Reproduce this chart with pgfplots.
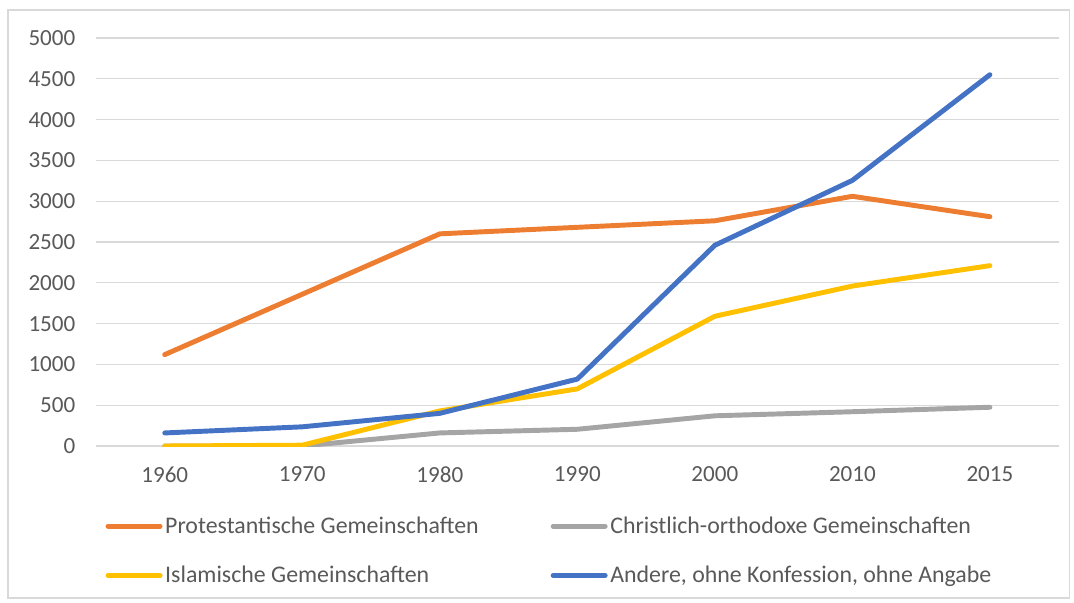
\documentclass[border=0pt]{standalone}
\usepackage{pgfplots}
\pgfplotsset{compat=1.18}
\usepackage{fontspec}
\setmainfont{Carlito}
\definecolor{cOrange}{HTML}{ED7D31}
\definecolor{cGrey}{HTML}{A5A5A5}
\definecolor{cYellow}{HTML}{FFC000}
\definecolor{cBlue}{HTML}{4472C4}
\definecolor{cText}{HTML}{595959}
\definecolor{cGrid}{HTML}{D9D9D9}
\begin{document}
\begin{tikzpicture}
\path (-72pt,-117.75pt) rectangle (733.5pt,334.5pt);
\draw[cGrid, line width=0.8pt] (-66pt,-114pt) rectangle (730pt,327pt);
\begin{axis}[
  scale only axis,
  width=722pt, height=306pt,
  xmin=-0.5, xmax=6.5,
  ymin=0, ymax=5000,
  xtick={0,...,6},
  xticklabels={1960,1970,1980,1990,2000,2010,2015},
  ytick={0,500,...,5000},
  axis line style={draw=none},
  major tick length=0pt,
  ymajorgrids,
  grid style={cGrid, line width=0.8pt},
  font=\fontsize{17.3}{20}\selectfont,
  tick label style={text=cText},
  /pgf/number format/assume math mode=true,
  /pgf/number format/1000 sep={},
  yticklabel style={xshift=-12pt},
  xticklabel style={yshift=-12pt},
  every axis plot/.append style={line width=3.7pt, line cap=round, line join=round, mark=none},
  legend columns=2,
  legend cell align=left,
  legend image code/.code={\draw[#1, line width=3.7pt, line cap=round] (0pt,0pt) -- (39pt,0pt);},
  legend style={
    at={(rel axis cs:0,0)}, anchor=north west,
    xshift=4pt, yshift=-50pt,
    draw=none, fill=none,
    text=cText,
    font=\fontsize{17.9}{21}\selectfont,
    row sep=21pt,
    nodes={inner xsep=2pt, inner ysep=1pt},
    /tikz/column 2/.style={column sep=52pt},
  },
]
\addplot[cOrange] coordinates {(0,1120) (1,1860) (2,2600) (3,2680) (4,2760) (5,3060) (6,2810)};
\addlegendentry{Protestantische Gemeinschaften}
\addplot[cGrey] coordinates {(0,0) (1,0) (2,160) (3,205) (4,370) (5,420) (6,475)};
\addlegendentry{Christlich-orthodoxe Gemeinschaften}
\addplot[cYellow] coordinates {(0,0) (1,10) (2,430) (3,700) (4,1590) (5,1960) (6,2210)};
\addlegendentry{Islamische Gemeinschaften}
\addplot[cBlue] coordinates {(0,160) (1,235) (2,400) (3,820) (4,2460) (5,3255) (6,4550)};
\addlegendentry{Andere, ohne Konfession, ohne Angabe}
\end{axis}
\end{tikzpicture}
\end{document}
